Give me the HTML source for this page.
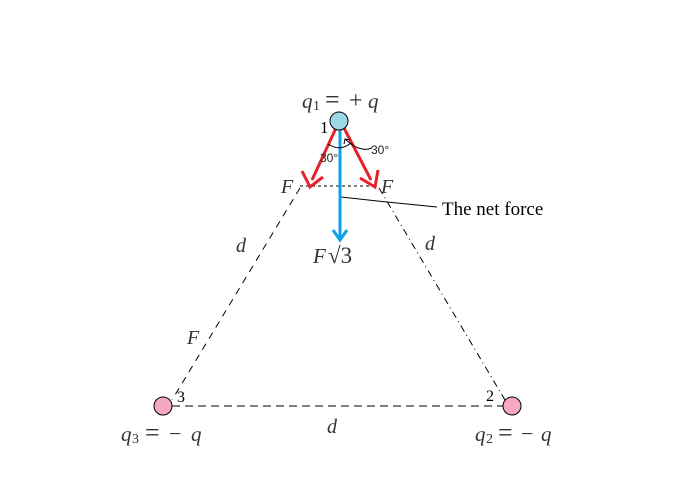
<!DOCTYPE html>
<html><head><style>
html,body{margin:0;padding:0;background:#fff;}
svg{display:block;}
.m{font-family:"Liberation Serif",serif;font-style:italic;fill:#333;}
.n{font-family:"Liberation Serif",serif;fill:#333;}
.r{font-family:"Liberation Serif",serif;fill:#000;}
.s{font-family:"Liberation Sans",sans-serif;font-size:12px;fill:#222;}
</style></head><body>
<svg width="682" height="487" viewBox="0 0 682 487" xmlns="http://www.w3.org/2000/svg">
<line x1="300" y1="188" x2="172" y2="400" stroke="#000" stroke-width="1" stroke-dasharray="7,6"/>
<line x1="379" y1="188" x2="505" y2="400" stroke="#000" stroke-width="1" stroke-dasharray="7,4,1,4"/>
<line x1="172" y1="406" x2="504" y2="406" stroke="#000" stroke-width="1" stroke-dasharray="8,5"/>
<line x1="300" y1="186" x2="378" y2="186" stroke="#000" stroke-width="1" stroke-dasharray="3,3"/>
<polyline points="341,197 387,202 437,207" fill="none" stroke="#000" stroke-width="1"/>
<line x1="336" y1="128" x2="312" y2="180" stroke="#e8202a" stroke-width="3"/>
<polyline points="302,171 310,187 323,177" fill="none" stroke="#e8202a" stroke-width="3"/>
<line x1="344" y1="128" x2="371" y2="180" stroke="#e8202a" stroke-width="3"/>
<polyline points="360,178 375,187 378,170" fill="none" stroke="#e8202a" stroke-width="3"/>
<line x1="340" y1="128" x2="340" y2="239" stroke="#0aa0e6" stroke-width="3"/>
<polyline points="333,230 340,240 347,230" fill="none" stroke="#0aa0e6" stroke-width="3"/>
<path d="M328 144 Q340 152 351 143" fill="none" stroke="#000" stroke-width="1"/>
<path d="M345 139 Q360 153 372 148" fill="none" stroke="#000" stroke-width="1"/>
<polyline points="344,144 345,139 350,140" fill="none" stroke="#000" stroke-width="1"/>
<circle cx="339" cy="121" r="9" fill="#9ed8e6" stroke="#000" stroke-width="1"/>
<circle cx="163" cy="406" r="9" fill="#f6a8c0" stroke="#000" stroke-width="1"/>
<circle cx="512" cy="406" r="9" fill="#f6a8c0" stroke="#000" stroke-width="1"/>
<!-- q1 -->
<text x="302" y="108" class="m" font-size="21">q</text>
<text x="313" y="110" class="n" font-size="14">1</text>
<text x="325" y="108" class="n" font-size="26">=</text>
<text x="349" y="108" class="n" font-size="24">+</text>
<text x="368" y="108" class="m" font-size="21">q</text>
<text x="320" y="133" class="r" font-size="17">1</text>
<text x="320" y="162" class="s">30°</text>
<text x="371" y="154" class="s">30°</text>
<text x="281" y="193" class="m" font-size="20">F</text>
<text x="381" y="193" class="m" font-size="20">F</text>
<text x="442" y="215" class="r" font-size="19">The net force</text>
<text x="236" y="252" class="m" font-size="20">d</text>
<text x="425" y="250" class="m" font-size="20">d</text>
<text x="313" y="263" class="m" font-size="21">F</text>
<text x="328" y="263" class="n" font-size="23">√3</text>
<text x="187" y="344" class="m" font-size="20">F</text>
<text x="177" y="402" class="r" font-size="16">3</text>
<text x="486" y="401" class="r" font-size="16">2</text>
<!-- q3 -->
<text x="121" y="441" class="m" font-size="21">q</text>
<text x="132" y="443" class="n" font-size="14">3</text>
<text x="145" y="441" class="n" font-size="26">=</text>
<text x="169" y="441" class="n" font-size="22">−</text>
<text x="191" y="441" class="m" font-size="21">q</text>
<text x="327" y="433" class="m" font-size="20">d</text>
<!-- q2 -->
<text x="475" y="441" class="m" font-size="21">q</text>
<text x="486" y="443" class="n" font-size="14">2</text>
<text x="498" y="441" class="n" font-size="26">=</text>
<text x="521" y="441" class="n" font-size="22">−</text>
<text x="541" y="441" class="m" font-size="21">q</text>
</svg>
</body></html>
